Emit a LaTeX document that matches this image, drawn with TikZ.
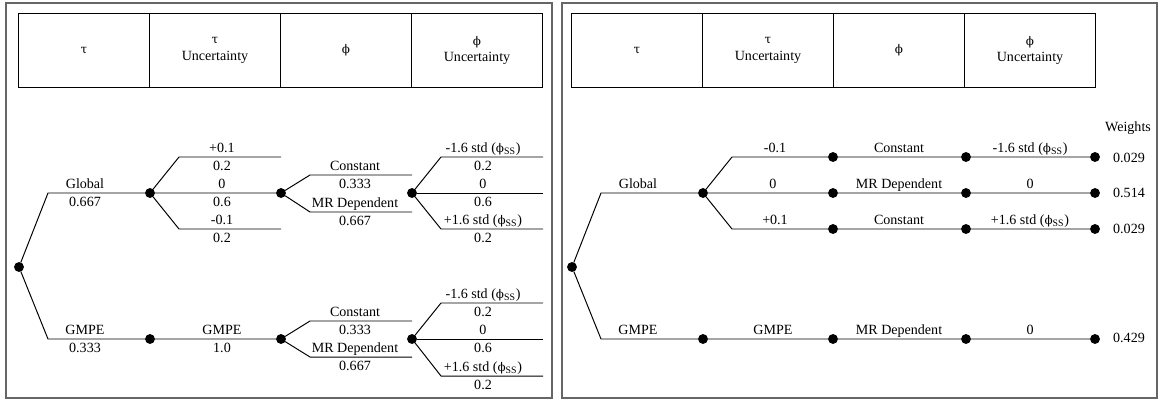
\documentclass[tikz,border=0pt]{standalone}
\usepackage{fontspec}
\setmainfont{Liberation Serif}
\newfontfamily\grk{DejaVu Serif}[Scale=0.85]
\usepackage{tikz}

\newcommand{\gtau}{{\grk τ}}
\newcommand{\gphi}{{\grk ϕ}}
\newcommand{\phiss}{(\gphi\textsubscript{SS})}

\begin{document}
\begin{tikzpicture}[
				x=0.025cm, y=-0.025cm,
				line width=0.7pt,
				dot/.style = {draw, circle, fill, inner sep=0pt, minimum size=2.2mm},
				lbl/.style = {anchor=base, inner sep=0pt},
				cell/.style = {draw, rectangle, align=center, outer sep=0pt,
					minimum width=3.275cm, minimum height=1.83cm},
				panel/.style = {draw=black!60, line width=1pt}
				]
				\useasboundingbox (0,0) rectangle (1161,402);
				
				% ---------- full logic tree ----------
				\draw[panel] (6,3) rectangle (552,398);
				\node[cell] (h1) at (84,50.5) {\gtau};
				\node[cell] (h2) at (215,50.5) {\gtau\\Uncertainty};
				\node[cell] (h3) at (346,50.5) {\gphi};
				\node[cell] (h4) at (477,50.5) {\gphi\\Uncertainty};
				
				\node[dot] (r1) at (19,267) {};
				\node[dot] (a1) at (150,193) {};
				\node[dot] (a2) at (150,339) {};
				\node[dot] (b1) at (281,193) {};
				\node[dot] (b2) at (281,339) {};
				\node[dot] (c1) at (412,193) {};
				\node[dot] (c2) at (412,339) {};
				
				\coordinate (k1) at (48,193);   \coordinate (k2) at (48,339);
				\coordinate (k3) at (179,157);  \coordinate (e3) at (281,157);
				\coordinate (k4) at (179,229);  \coordinate (e4) at (281,229);
				\coordinate (k5) at (310,175);  \coordinate (e5) at (412,175);
				\coordinate (k6) at (310,212);  \coordinate (e6) at (412,212);
				\coordinate (k7) at (310,321);  \coordinate (e7) at (412,321);
				\coordinate (k8) at (310,357);  \coordinate (e8) at (412,357);
				\coordinate (k9) at (441,157);  \coordinate (e9) at (543,157);
				\coordinate (e10) at (543,193);
				\coordinate (k11) at (441,229); \coordinate (e11) at (543,229);
				\coordinate (k12) at (441,303); \coordinate (e12) at (543,303);
				\coordinate (e13) at (543,339);
				\coordinate (k14) at (441,376); \coordinate (e14) at (543,376);
				
				\draw (r1) -- (k1) -- (a1) -- (b1);
				\draw (r1) -- (k2) -- (a2) -- (b2);
				\draw (a1) -- (k3) -- (e3);
				\draw (a1) -- (k4) -- (e4);
				\draw (b1) -- (k5) -- (e5);
				\draw (b1) -- (k6) -- (e6);
				\draw (b2) -- (k7) -- (e7);
				\draw (b2) -- (k8) -- (e8);
				\draw (c1) -- (k9) -- (e9);
				\draw (c1) -- (e10);
				\draw (c1) -- (k11) -- (e11);
				\draw (c2) -- (k12) -- (e12);
				\draw (c2) -- (e13);
				\draw (c2) -- (k14) -- (e14);
				
				\node[lbl] (t1) at (85,188) {Global};
				\node[lbl] (t1w) at (85,206.5) {0.667};
				\node[lbl] (t2) at (85,334) {GMPE};
				\node[lbl] (t2w) at (85,352.5) {0.333};
				
				\node[lbl] (u1) at (222,152) {+0.1};
				\node[lbl] (u1w) at (222,170.5) {0.2};
				\node[lbl] (u2) at (222,188) {0};
				\node[lbl] (u2w) at (222,206.5) {0.6};
				\node[lbl] (u3) at (222,224) {-0.1};
				\node[lbl] (u3w) at (222,242.5) {0.2};
				\node[lbl] (u4) at (222,334) {GMPE};
				\node[lbl] (u4w) at (222,352.5) {1.0};
				
				\node[lbl] (p1) at (355,170) {Constant};
				\node[lbl] (p1w) at (355,188.5) {0.333};
				\node[lbl] (p2) at (355,207) {MR Dependent};
				\node[lbl] (p2w) at (355,225.5) {0.667};
				\node[lbl] (p3) at (355,316) {Constant};
				\node[lbl] (p3w) at (355,334.5) {0.333};
				\node[lbl] (p4) at (355,352) {MR Dependent};
				\node[lbl] (p4w) at (355,370.5) {0.667};
				
				\node[lbl] (s1) at (483,152) {-1.6 std \phiss};
				\node[lbl] (s1w) at (483,170.5) {0.2};
				\node[lbl] (s2) at (483,188) {0};
				\node[lbl] (s2w) at (483,206.5) {0.6};
				\node[lbl] (s3) at (483,224) {+1.6 std \phiss};
				\node[lbl] (s3w) at (483,242.5) {0.2};
				\node[lbl] (s4) at (483,298) {-1.6 std \phiss};
				\node[lbl] (s4w) at (483,316.5) {0.2};
				\node[lbl] (s5) at (483,334) {0};
				\node[lbl] (s5w) at (483,352.5) {0.6};
				\node[lbl] (s6) at (483,371) {+1.6 std \phiss};
				\node[lbl] (s6w) at (483,389.5) {0.2};
				
				% ---------- collapsed branches with weights ----------
				\draw[panel] (562,3) rectangle (1157,398);
				\node[cell] (H1) at (637,50.5) {\gtau};
				\node[cell] (H2) at (768,50.5) {\gtau\\Uncertainty};
				\node[cell] (H3) at (899,50.5) {\gphi};
				\node[cell] (H4) at (1030,50.5) {\gphi\\Uncertainty};
				
				\node[dot] (r2) at (572,267) {};
				\node[dot] (d1) at (703,193) {};
				\node[dot] (d2) at (703,339) {};
				\node[dot] (m1) at (833,157) {};
				\node[dot] (m2) at (833,193) {};
				\node[dot] (m3) at (833,229) {};
				\node[dot] (m4) at (833,339) {};
				\node[dot] (n1) at (966,157) {};
				\node[dot] (n2) at (966,193) {};
				\node[dot] (n3) at (966,229) {};
				\node[dot] (n4) at (966,339) {};
				\node[dot] (w1) at (1095,157) {};
				\node[dot] (w2) at (1095,193) {};
				\node[dot] (w3) at (1095,229) {};
				\node[dot] (w4) at (1095,339) {};
				
				\coordinate (K1) at (601,193);  \coordinate (K2) at (601,339);
				\coordinate (K3) at (732,157);  \coordinate (K4) at (732,229);
				
				\draw (r2) -- (K1) -- (d1) -- (m2) -- (n2) -- (w2);
				\draw (r2) -- (K2) -- (d2) -- (m4) -- (n4) -- (w4);
				\draw (d1) -- (K3) -- (m1) -- (n1) -- (w1);
				\draw (d1) -- (K4) -- (m3) -- (n3) -- (w3);
				
				\node[lbl] (T1) at (638,188) {Global};
				\node[lbl] (T2) at (638,334) {GMPE};
				\node[lbl] (U1) at (775,152) {-0.1};
				\node[lbl] (U2) at (773,188) {0};
				\node[lbl] (U3) at (775,224) {+0.1};
				\node[lbl] (U4) at (773,334) {GMPE};
				\node[lbl] (P1) at (899,152) {Constant};
				\node[lbl] (P2) at (899,188) {MR Dependent};
				\node[lbl] (P3) at (899,224) {Constant};
				\node[lbl] (P4) at (899,334) {MR Dependent};
				\node[lbl] (S1) at (1030,152) {-1.6 std \phiss};
				\node[lbl] (S2) at (1030,188) {0};
				\node[lbl] (S3) at (1030,224) {+1.6 std \phiss};
				\node[lbl] (S4) at (1030,334) {0};
				
				\node[lbl] (W0) at (1128,131.5) {Weights};
				\node[lbl] (W1) at (1129,162) {0.029};
				\node[lbl] (W2) at (1129,197) {0.514};
				\node[lbl] (W3) at (1129,233) {0.029};
				\node[lbl] (W4) at (1129,342) {0.429};
			\end{tikzpicture}
\end{document}
